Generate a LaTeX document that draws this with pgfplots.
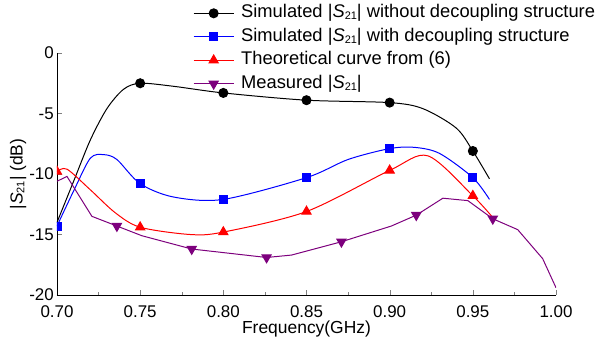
\documentclass[border=0pt]{standalone}
\usepackage{pgfplots}
\pgfplotsset{compat=1.18}
\usepackage{fontspec}
\setmainfont{Liberation Sans}
\definecolor{mpurple}{RGB}{125,0,125}
\newcommand{\Sab}{|\textit{S}\raisebox{-0.2ex}{\fontsize{11}{11}\selectfont 21}|}
\begin{document}
\begin{tikzpicture}
\begin{axis}[
  scale only axis,
  width=499bp, height=242bp,
  xmin=0.7, xmax=1.0, ymin=-20, ymax=0,
  clip marker paths=true,
  axis x line*=bottom, axis y line*=left,
  tick align=inside,
  major tick length=5bp, minor tick length=3bp,
  xtick={0.70,0.75,...,1.00},
  minor x tick num=1,
  ytick={-20,-15,-10,-5,0},
  /pgf/number format/assume math mode=true,
  ticklabel style={font=\fontsize{17}{19}\selectfont},
  xticklabel style={anchor=center, yshift=-17bp, /pgf/number format/.cd, fixed, fixed zerofill, precision=2},
  yticklabel style={anchor=east, inner sep=0pt, xshift=-3bp},
  xlabel={Frequency(GHz)},
  ylabel={\Sab\ (dB)},
  label style={font=\fontsize{17.5}{19}\selectfont},
  xlabel style={at={(axis description cs:0.5,-0.142)}, anchor=center},
  ylabel style={at={(axis description cs:-0.078,0.5)}, anchor=center},
  legend style={draw=none, fill=none, at={(0.2725,1.20)}, anchor=north west,
    font=\fontsize{18.4}{20}\selectfont, row sep=6.5bp, inner sep=0pt,
    nodes={inner sep=0pt, text height=13bp, text depth=4bp},
    /tikz/every odd column/.append style={column sep=7bp}},
  legend cell align=left,
  legend image code/.code={\draw[mark repeat=2,mark phase=2] plot coordinates {(0bp,0bp) (20bp,0bp) (40bp,0bp)};},
  every axis plot/.append style={line width=1pt},
]
\coordinate (O) at (rel axis cs:0,0);
\coordinate (E) at (rel axis cs:1,1);
\addlegendimage{black, mark=*, mark size=4.5bp}
\addlegendentry{Simulated \Sab\ without decoupling structure}
\addlegendimage{blue, mark=square*, mark size=4bp}
\addlegendentry{Simulated \Sab\ with decoupling structure}
\addlegendimage{red, mark=triangle*, mark size=5.3bp}
\addlegendentry{Theoretical curve from (6)}
\addlegendimage{mpurple, mark=triangle*, mark options={rotate=180}, mark size=5.3bp}
\addlegendentry{Measured \Sab}

\addplot[black, smooth, mark=*, mark size=4.5bp, mark indices={6,8,9,10,13}, forget plot] coordinates {
(0.700,-14.0) (0.710,-10.6) (0.720,-7.2) (0.730,-4.6) (0.740,-3.0) (0.750,-2.5)
(0.770,-2.75) (0.800,-3.3) (0.850,-3.9) (0.900,-4.1) (0.920,-4.6) (0.940,-6.2) (0.950,-8.1) (0.960,-10.4)};

\addplot[blue, smooth, mark=square*, mark size=4bp, mark indices={1,6,8,9,11,14}, forget plot] coordinates {
(0.700,-14.3) (0.710,-11.4) (0.720,-8.7) (0.728,-8.4) (0.736,-8.8) (0.750,-10.8) (0.770,-11.9) (0.800,-12.1)
(0.850,-10.3) (0.875,-8.8) (0.900,-7.9) (0.915,-7.8) (0.930,-8.3) (0.950,-10.3) (0.960,-12.1)};

\addplot[red, smooth, mark=triangle*, mark size=5.3bp, mark indices={1,5,7,8,9,11}, forget plot] coordinates {
(0.700,-9.8) (0.706,-9.6) (0.720,-11.3) (0.735,-13.2) (0.750,-14.4) (0.780,-15.0) (0.800,-14.8)
(0.850,-13.1) (0.900,-9.7) (0.923,-8.5) (0.950,-11.8) (0.962,-13.6)};

\addplot[mpurple, mark=triangle*, mark options={rotate=180}, mark size=5.3bp, mark indices={4,6,7,9,11,14}, forget plot] coordinates {
(0.700,-10.6) (0.706,-10.2) (0.721,-13.5) (0.736,-14.3) (0.751,-15.1) (0.781,-16.2) (0.826,-16.9) (0.841,-16.7)
(0.871,-15.6) (0.901,-14.3) (0.916,-13.4) (0.932,-12.0) (0.947,-12.2) (0.962,-13.7) (0.977,-14.6) (0.992,-17.0) (1.000,-19.4)};
\end{axis}
\pgfresetboundingbox
\path ([shift={(-57bp,-45bp)}]O) rectangle ([shift={(46bp,53bp)}]E);
\end{tikzpicture}
\end{document}
